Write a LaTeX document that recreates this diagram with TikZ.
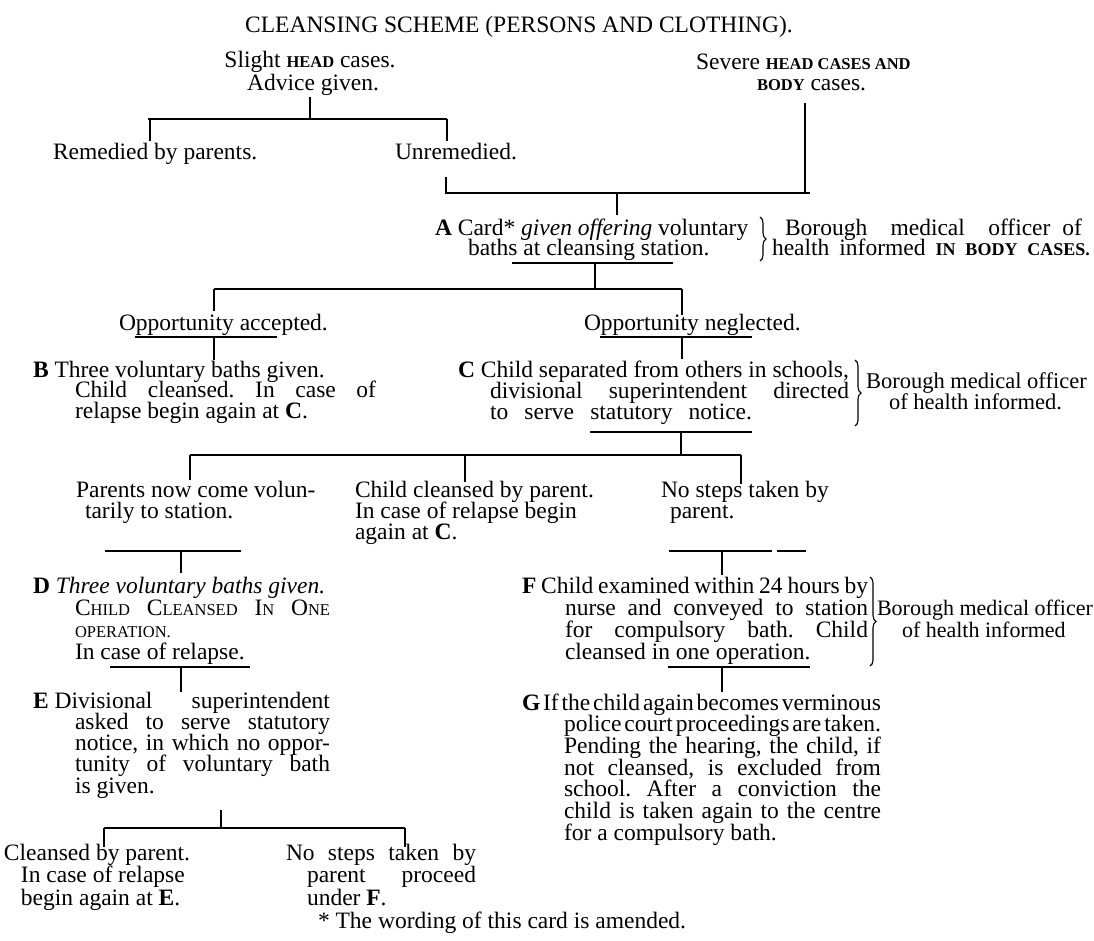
\documentclass[tikz,border=0pt]{standalone}
\usepackage{fontspec}
\setmainfont{Liberation Serif}
\usetikzlibrary{decorations.pathreplacing}
\frenchspacing
\newcommand\mainsize{\fontsize{23.5}{21.5}\selectfont}
\newcommand\notesizeC{\fontsize{22.5}{21}\selectfont}
\newcommand\notesizeF{\fontsize{22}{21}\selectfont}
\newcommand\smcb[1]{{\fontsize{16.5}{21}\selectfont\bfseries #1}}
\newcommand\smcbl[1]{{\fontsize{18}{21}\selectfont\bfseries #1}}
\newcommand\smc[1]{{\fontsize{16.5}{21}\selectfont #1}}
\newcommand\jl[3]{\hbox{\hskip#1\relax\hbox to #2{\spaceskip=0.25em plus 1fil minus 0.2em\relax #3}}}
\newcommand\nl[2]{\hbox{\hskip#1\relax #2}}
\newcommand\blk[2][21.5pt]{\vtop{\baselineskip=#1\relax\lineskiplimit=-\maxdimen\lineskip=0pt #2}}
\tikzset{
  txt/.style={inner sep=0pt, outer sep=0pt, anchor=base west, font=\mainsize},
  ln/.style={line width=1.1pt},
  brc/.style={decorate, decoration={brace, amplitude=6pt}, line width=1.1pt}
}
\begin{document}
\begin{tikzpicture}[x=1pt,y=-1pt]
\fill[white] (0,0) rectangle (1094,940);
\useasboundingbox (0,0) rectangle (1094,940);

% ---------- text ----------
\node[txt, anchor=base] (title) at (519,32) {CLEANSING SCHEME (PERSONS AND CLOTHING).};
\node[txt, anchor=base] (slight) at (310,67) {Slight \smcb{HEAD} cases.};
\node[txt, anchor=base] (advice) at (313,90) {Advice given.};
\node[txt] (severe) at (696,69) {\blk{\nl{0pt}{Severe \smcb{HEAD CASES AND}}\nl{61pt}{\smcb{BODY} cases.}}};
\node[txt] (remedied) at (53,159) {Remedied by parents.};
\node[txt] (unremedied) at (395,159) {Unremedied.};

\node[txt] (A) at (435,235) {\blk[20pt]{\nl{0pt}{\textbf{A} Card* \textit{given offering} voluntary}\nl{33pt}{baths at cleansing station.}}};
\node[txt] (Anote) at (772,235) {\blk[20pt]{\jl{13pt}{297pt}{Borough medical officer\hskip12pt of}\jl{0pt}{318pt}{health informed \smcbl{IN BODY CASES.}}}};

\node[txt] (acc) at (119,330) {Opportunity accepted.};
\node[txt] (neg) at (584,330) {Opportunity neglected.};

\node[txt] (B) at (33,377) {\blk[20.5pt]{\nl{0pt}{\textbf{B} Three voluntary baths given.}\jl{42pt}{301pt}{Child cleansed. In case of}\nl{42pt}{relapse begin again at \textbf{C}.}}};
\node[txt] (C) at (458,377) {\blk[21pt]{\nl{0pt}{\textbf{C} Child separated from others in schools,}\jl{32pt}{359pt}{divisional superintendent directed}\jl{32pt}{262pt}{to serve statutory notice.}}};
\node[txt, font=\notesizeC] (Cnote) at (866,388) {\blk[21pt]{\nl{0pt}{Borough medical officer}\nl{23pt}{of health informed.}}};

\node[txt] (parents) at (76,497) {\blk[21pt]{\nl{0pt}{Parents now come volun-}\nl{9pt}{tarily to station.}}};
\node[txt] (childp) at (355,497) {\blk[21pt]{\nl{0pt}{Child cleansed by parent.}\nl{0pt}{In case of relapse begin}\nl{0pt}{again at \textbf{C}.}}};
\node[txt] (nosteps) at (661,497) {\blk[21pt]{\nl{0pt}{No steps taken by}\nl{9pt}{parent.}}};

\node[txt] (D) at (33,593) {\blk[22pt]{\nl{0pt}{\textbf{D} \textit{Three voluntary baths given.}}\jl{42pt}{255pt}{C\smc{HILD} C\smc{LEANSED} I\smc{N} O\smc{NE}}\nl{42pt}{\smc{OPERATION.}}\nl{42pt}{In case of relapse.}}};
\node[txt] (F) at (522,593) {\blk[22pt]{\jl{0pt}{346pt}{\textbf{F} Child examined within 24 hours by}\jl{43pt}{303pt}{nurse and conveyed to station}\jl{43pt}{303pt}{for compulsory bath. Child}\nl{43pt}{cleansed in one operation.}}};
\node[txt, font=\notesizeF] (Fnote) at (877,615) {\blk[22pt]{\nl{0pt}{Borough medical officer}\nl{25pt}{of health informed}}};

\node[txt] (E) at (33,708) {\blk[21.3pt]{\nl{0pt}{\hbox to 297pt{\textbf{E} Divisional\hfill superintendent}}\jl{42pt}{255pt}{asked to serve statutory}\jl{42pt}{255pt}{notice, in which no oppor-}\jl{42pt}{255pt}{tunity of voluntary bath}\nl{42pt}{is given.}}};
\node[txt] (G) at (522,710) {\blk[21.7pt]{\jl{0pt}{359pt}{\textbf{G} If the child again becomes verminous}\jl{42pt}{317pt}{police court proceedings are taken.}\jl{42pt}{317pt}{Pending the hearing, the child, if}\jl{42pt}{317pt}{not cleansed, is excluded from}\jl{42pt}{317pt}{school. After a conviction the}\jl{42pt}{317pt}{child is taken again to the centre}\nl{42pt}{for a compulsory bath.}}};

\node[txt] (cleansed) at (4,860) {\blk[22.5pt]{\nl{0pt}{Cleansed by parent.}\nl{17pt}{In case of relapse}\nl{17pt}{begin again at \textbf{E}.}}};
\node[txt] (nosteps2) at (286,860) {\blk[22.5pt]{\jl{0pt}{190pt}{No steps taken by}\jl{21pt}{169pt}{parent proceed}\nl{21pt}{under \textbf{F}.}}};
\node[txt] (foot) at (318,928) {* The wording of this card is amended.};

% ---------- connector points ----------
\coordinate (s1) at (310,97);   \coordinate (s2) at (310,119);
\coordinate (h1l) at (148,119); \coordinate (h1r) at (447,119);
\coordinate (r0) at (150,119);  \coordinate (r1) at (150,141);
\coordinate (u0) at (447,141);
\coordinate (u1) at (446,177);  \coordinate (u2) at (446,193);
\coordinate (h2r) at (810,193); \coordinate (b1) at (805,103); \coordinate (b2) at (805,193);
\coordinate (a0) at (617,193);  \coordinate (a1) at (617,215);
\coordinate (aul) at (512,263); \coordinate (aur) at (673,263);
\coordinate (a2) at (595,263);  \coordinate (a3) at (595,289);
\coordinate (h3l) at (214,289); \coordinate (h3r) at (682,289);
\coordinate (p1) at (214,311);  \coordinate (q1) at (682,315);
\coordinate (pul) at (135,337); \coordinate (pur) at (277,337);
\coordinate (p2) at (214,337);  \coordinate (p3) at (214,360);
\coordinate (nul) at (600,337); \coordinate (nur) at (752,337);
\coordinate (q2) at (682,337);  \coordinate (q3) at (682,359);
\coordinate (cul) at (590,432); \coordinate (cur) at (752,432);
\coordinate (c1) at (681,432);  \coordinate (c2) at (681,455);
\coordinate (h4l) at (190,455); \coordinate (h4r) at (741,455);
\coordinate (h4m) at (465,455);
\coordinate (t1) at (190,480);  \coordinate (t2) at (465,482); \coordinate (t3) at (741,484);
\coordinate (vul) at (105,551); \coordinate (vur) at (241,551);
\coordinate (v1) at (181,551);  \coordinate (v2) at (181,573);
\coordinate (wul) at (669,551); \coordinate (wum) at (772,551);
\coordinate (wun) at (777,551); \coordinate (wur) at (806,551);
\coordinate (w1) at (722,551);  \coordinate (w2) at (722,575);
\coordinate (dul) at (110,667); \coordinate (dur) at (250,667);
\coordinate (d1) at (181,667);  \coordinate (d2) at (181,692);
\coordinate (ful) at (668,667); \coordinate (fur) at (810,667);
\coordinate (f1) at (722,667);  \coordinate (f2) at (722,692);
\coordinate (e1) at (221,810);  \coordinate (e2) at (221,828);
\coordinate (h5l) at (104,828); \coordinate (h5r) at (405,828);
\coordinate (k1) at (104,847);  \coordinate (k2) at (405,847);
\coordinate (abt) at (760,217); \coordinate (abb) at (760,261);
\coordinate (cbt) at (855,360); \coordinate (cbb) at (855,426);
\coordinate (fbt) at (870,577); \coordinate (fbb) at (870,666);

% ---------- connectors ----------
\draw[ln] (s1) -- (s2);
\draw[ln] (h1l) -- (h1r);
\draw[ln] (r0) -- (r1);
\draw[ln] (h1r) -- (u0);
\draw[ln] (u1) -- (u2) -- (h2r);
\draw[ln] (b1) -- (b2);
\draw[ln] (a0) -- (a1);
\draw[ln] (aul) -- (aur);
\draw[ln] (a2) -- (a3);
\draw[ln] (h3l) -- (h3r);
\draw[ln] (h3l) -- (p1);
\draw[ln] (h3r) -- (q1);
\draw[ln] (pul) -- (pur);
\draw[ln] (p2) -- (p3);
\draw[ln] (nul) -- (nur);
\draw[ln] (q2) -- (q3);
\draw[ln] (cul) -- (cur);
\draw[ln] (c1) -- (c2);
\draw[ln] (h4l) -- (h4r);
\draw[ln] (h4l) -- (t1);
\draw[ln] (h4m) -- (t2);
\draw[ln] (h4r) -- (t3);
\draw[ln] (vul) -- (vur);
\draw[ln] (v1) -- (v2);
\draw[ln] (wul) -- (wum);
\draw[ln] (wun) -- (wur);
\draw[ln] (w1) -- (w2);
\draw[ln] (dul) -- (dur);
\draw[ln] (d1) -- (d2);
\draw[ln] (ful) -- (fur);
\draw[ln] (f1) -- (f2);
\draw[ln] (e1) -- (e2);
\draw[ln] (h5l) -- (h5r);
\draw[ln] (h5l) -- (k1);
\draw[ln] (h5r) -- (k2);
\draw[brc] (abt) -- (abb);
\draw[brc] (cbt) -- (cbb);
\draw[brc] (fbt) -- (fbb);
\end{tikzpicture}
\end{document}
